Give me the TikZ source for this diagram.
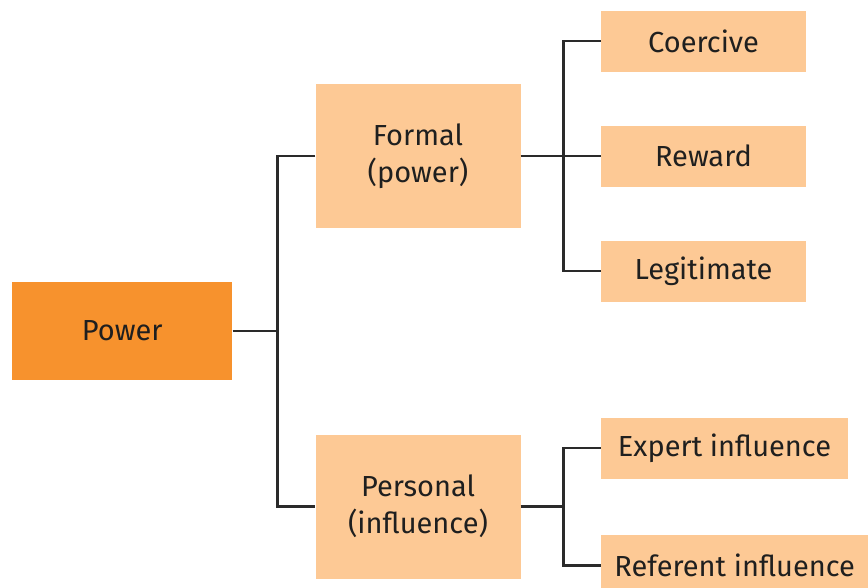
\documentclass[tikz,border=0pt]{standalone}
\usepackage{fontspec}
\setmainfont{Fira Sans}
\definecolor{rootfill}{HTML}{F7922D}
\definecolor{leaffill}{HTML}{FDC995}
\definecolor{linkcol}{HTML}{2A2A2A}
\begin{document}
\begin{tikzpicture}[x=1pt,y=-1pt,
  box/.style={fill=leaffill,draw=none,inner sep=0pt,align=center,text=black!88,font=\fontsize{29}{37}\selectfont},
  rootbox/.style={box,fill=rootfill},
  link/.style={draw=linkcol,line width=2.6pt}]
\useasboundingbox (0,0) rectangle (868,587);
% boxes: corner-to-corner placement
\node[rootbox,minimum width=220,minimum height=98] (power) at (122.3,331) {Power};
\node[box,minimum width=205,minimum height=144] (formal) at (418,156) {Formal\\(power)};
\node[box,minimum width=205,minimum height=144] (personal) at (418,506.5) {Personal\\(influence)};
\node[box,minimum width=205,minimum height=61] (coercive) at (703.5,41) {Coercive};
\node[box,minimum width=205,minimum height=61] (reward) at (703.5,156) {Reward};
\node[box,minimum width=205,minimum height=61] (legit) at (703.5,271) {Legitimate};
\node[box,minimum width=247,minimum height=61] (expert) at (724.5,448) {Expert influence};
\node[box,minimum width=267,minimum height=61,anchor=north west] (referent) at (601,535) {Referent influence};
% junction points
\coordinate (j1) at (277.3,331);
\coordinate (j2) at (563.5,156);
\coordinate (j3) at (563.5,506.5);
% connectors
\draw[link] (power.east) -- (j1);
\draw[link] (formal.west) -| (j1) |- (personal.west);
\draw[link] (formal.east) -- (reward.west);
\draw[link] (coercive.west) -| (j2) |- (legit.west);
\draw[link] (personal.east) -- (j3);
\draw[link] (expert.west) -| (j3) |- (referent.west);
\end{tikzpicture}
\end{document}
